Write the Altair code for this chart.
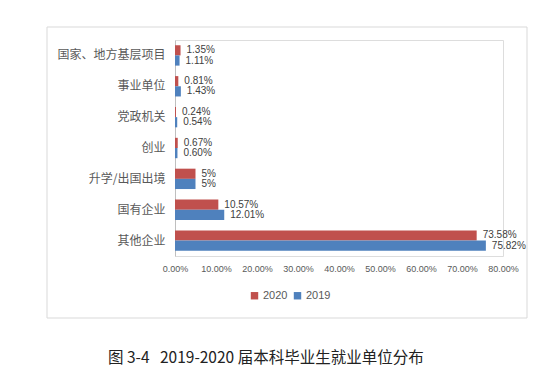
import altair as alt
import pandas as pd

categories = ["国家、地方基层项目", "事业单位", "党政机关", "创业", "升学/出国出境", "国有企业", "其他企业"]
values_2020 = [1.35, 0.81, 0.24, 0.67, 5, 10.57, 73.58]
values_2019 = [1.11, 1.43, 0.54, 0.60, 5, 12.01, 75.82]
series = ["2020", "2019"]
colors = ["#C0504D", "#4F81BD"]
x_ticks = [0, 10, 20, 30, 40, 50, 60, 70, 80]
caption = "图 3-4\u00a0\u00a0\u00a02019-2020 届本科毕业生就业单位分布"


def fmt(v):
    return f"{int(v)}%" if float(v).is_integer() else f"{v:.2f}%"


rows = []
for c, a, b in zip(categories, values_2020, values_2019):
    rows.append({"cat": c, "year": "2020", "v": a, "label": fmt(a)})
    rows.append({"cat": c, "year": "2019", "v": b, "label": fmt(b)})
df = pd.DataFrame(rows)

y_enc = alt.Y("cat:N", sort=categories,
              scale=alt.Scale(paddingInner=0.34, paddingOuter=0.17),
              axis=alt.Axis(title=None, ticks=False, labelPadding=10,
                            labelFont="Noto Sans CJK SC", labelFontSize=12,
                            labelColor="#595959", domainColor="#BFBFBF",
                            labelLimit=200))
x_enc = alt.X("v:Q", scale=alt.Scale(domain=[0, 80], nice=False),
              axis=alt.Axis(title=None, values=x_ticks, grid=False, domain=False,
                            ticks=False, labelPadding=8, labelOverlap=False,
                            labelFlush=False,
                            labelExpr="format(datum.value/100, '.2%')",
                            labelFont="Liberation Sans", labelFontSize=9,
                            labelColor="#595959"))
yoff = alt.YOffset("year:N", sort=series)

base = alt.Chart(df)

bars = base.mark_bar().encode(
    y=y_enc, x=x_enc, yOffset=yoff,
    color=alt.Color("year:N", sort=series,
                    scale=alt.Scale(domain=series, range=colors),
                    legend=alt.Legend(title=None, orient="none", direction="horizontal",
                                      legendX=74, legendY=250, symbolType="square",
                                      symbolSize=55, symbolStrokeWidth=0,
                                      labelFont="Liberation Sans", labelFontSize=11,
                                      labelColor="#595959", columnPadding=4,
                                      labelOffset=3)),
)

texts = base.mark_text(align="left", baseline="middle", dx=6,
                       font="Liberation Sans", fontSize=10, color="#404040").encode(
    y=alt.Y("cat:N", sort=categories), x="v:Q", yOffset=yoff, text="label:N")

frame_df = pd.DataFrame({"f": [1]})
frame = alt.Chart(frame_df).mark_rect(fill=None, stroke="#D9D9D9", strokeWidth=1, clip=False).encode(
    x=alt.value(-128), x2=alt.value(352), y=alt.value(-13), y2=alt.value(278))

cap_df = pd.DataFrame({"t": [caption]})
cap = alt.Chart(cap_df).mark_text(align="left", baseline="middle", font="Noto Sans CJK SC",
                                  fontSize=15.5, color="#222222").encode(
    x=alt.value(-67), y=alt.value(318), text="t:N")

chart = alt.layer(frame, bars, texts, cap).properties(
    width=328, height=216,
    autosize=alt.AutoSizeParams(type="none"),
    padding={"left": 167, "top": 32, "right": 38, "bottom": 120},
).configure_view(stroke=None).configure(background="white")

chart.save("out.html", embed_options={"renderer": "svg", "actions": False})
